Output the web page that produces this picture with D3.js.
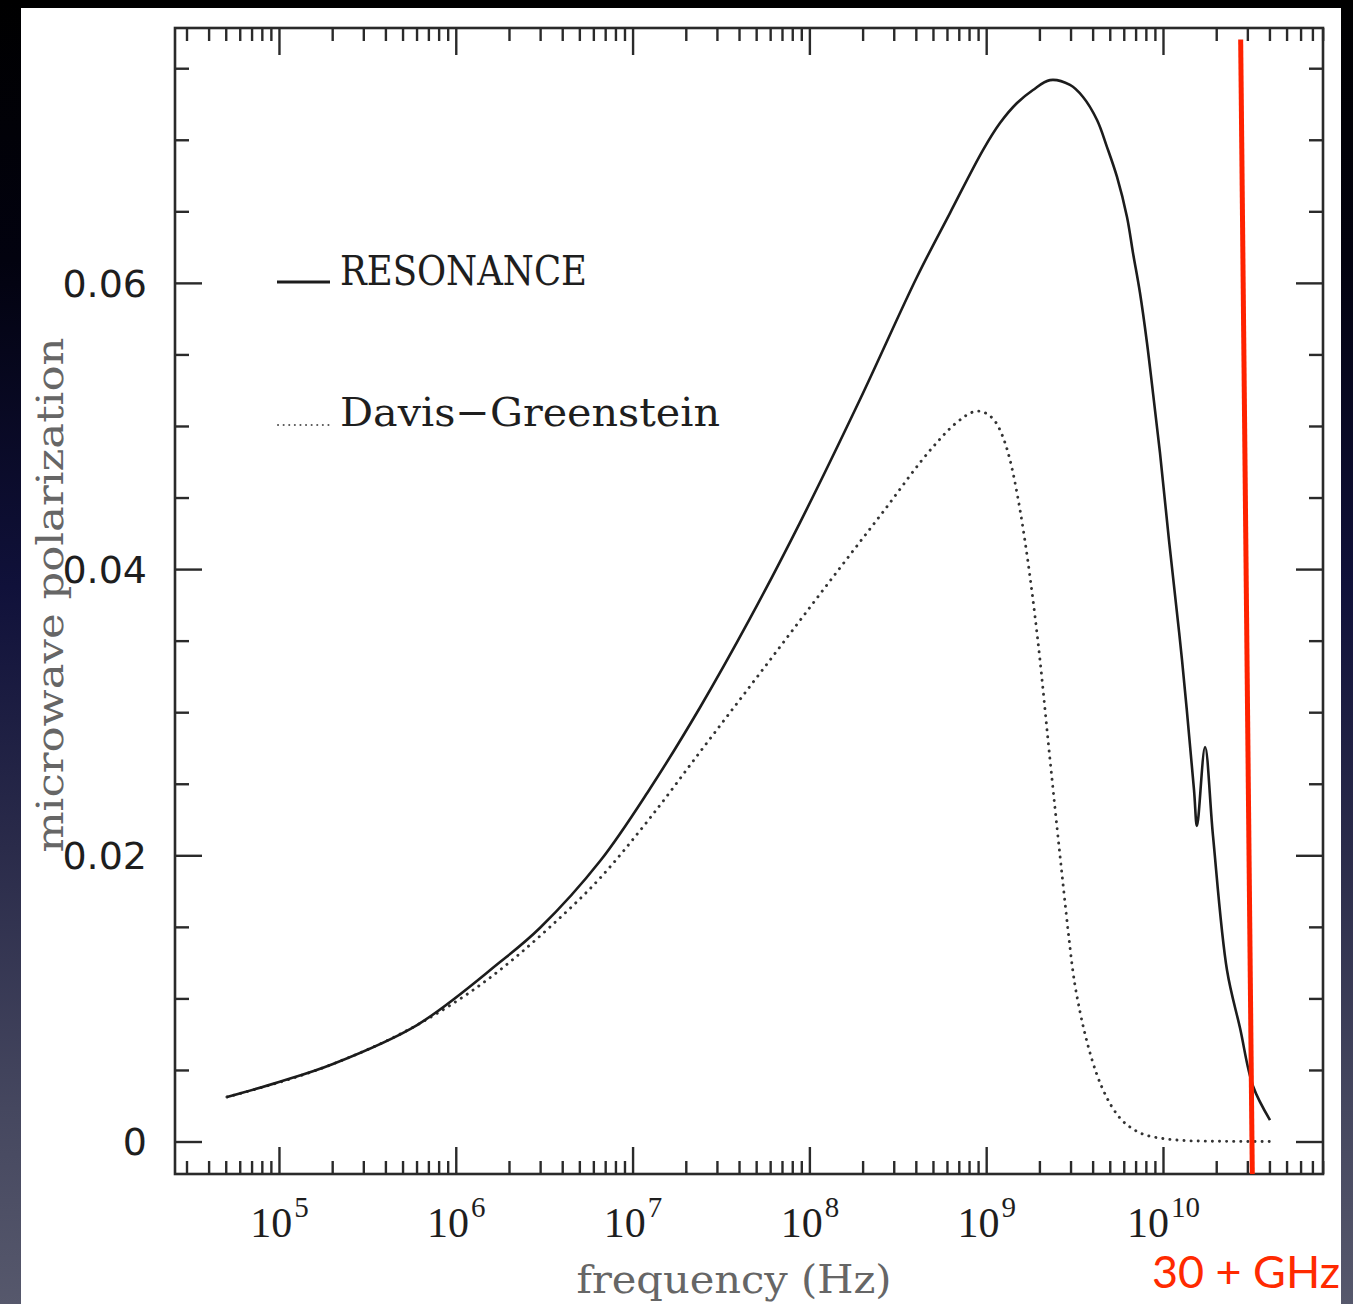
<!DOCTYPE html>
<html>
<head>
<meta charset="utf-8">
<script src="https://cdn.jsdelivr.net/npm/d3@7"></script>
<style>
  html, body { margin: 0; padding: 0; background: #000; }
  svg { display: block; }
</style>
</head>
<body>
<svg id="chart" width="1353" height="1304"></svg>
<script>
// ---------------- DATA ----------------
const freqResonance = [5.08e4, 1.0e5, 2.02e5, 6.04e5, 1.78e6, 2.99e6, 6.55e6, 1.256e7, 2.406e7, 4.615e7,
  8.85e7, 1.933e8, 4.06e8, 6.24e8, 9.59e8, 1.197e9, 1.494e9, 1.840e9, 2.296e9, 2.979e9, 3.530e9,
  4.236e9, 4.824e9, 5.495e9, 6.258e9, 6.767e9, 7.413e9, 8.12e9, 8.78e9, 9.62e9, 1.081e10, 1.281e10,
  1.498e10, 1.557e10, 1.729e10, 1.918e10, 2.301e10, 2.727e10, 3.228e10, 4.03e10];
const polResonance = [0.00311, 0.00416, 0.00542, 0.00814, 0.01254, 0.01492, 0.01960, 0.02467, 0.03033, 0.03655,
  0.04325, 0.05185, 0.06041, 0.06488, 0.06928, 0.07117, 0.07257, 0.07348, 0.07417, 0.07383, 0.07299,
  0.07138, 0.06949, 0.06740, 0.06460, 0.06209, 0.05929, 0.05580, 0.05230, 0.04811, 0.04203, 0.03365,
  0.02456, 0.02205, 0.02757, 0.02135, 0.01198, 0.00793, 0.00388, 0.00150];

const freqDG = [5.08e4, 2.02e5, 6.04e5, 1.426e6, 3.41e6, 6.55e6, 1.256e7, 2.406e7, 5.76e7, 1.361e8, 2.608e8,
  5.00e8, 6.66e8, 8.99e8, 1.051e9, 1.197e9, 1.364e9, 1.554e9, 1.770e9, 2.015e9, 2.237e9, 2.450e9,
  2.720e9, 2.903e9, 3.098e9, 3.396e9, 3.72e9, 4.236e9, 4.824e9, 5.71e9, 6.767e9, 9.62e9, 1.62e10, 4.03e10];
const polDG = [0.00311, 0.00542, 0.00814, 0.01108, 0.01499, 0.01841, 0.02261, 0.02722, 0.03337, 0.03945, 0.04399,
  0.04853, 0.05014, 0.05104, 0.05070, 0.04972, 0.04762, 0.04413, 0.03945, 0.03365, 0.02806, 0.02330,
  0.01799, 0.01478, 0.01184, 0.00905, 0.00695, 0.00465, 0.00304, 0.00164, 0.00087, 0.00024, 0.00003, 0.0];

const seriesNames = ["RESONANCE", "Davis\u2212Greenstein"];
const xMajorTicks = [1e5, 1e6, 1e7, 1e8, 1e9, 1e10];
const xTickExponents = ["5", "6", "7", "8", "9", "10"];
const yMajorTicks = [0, 0.02, 0.04, 0.06];
const yTickLabels = ["0", "0.02", "0.04", "0.06"];
const xTitle = "frequency (Hz)";
const yTitle = "microwave polarization";
const markerFreq = [2.75e10, 3.2e10];
const markerPol = [0.0770, -0.00227];
const markerLabel = "30 + GHz";

// ---------------- LAYOUT ----------------
const W = 1353, H = 1304;
const L = 175, R = 1323, T = 28, B = 1174;

const svg = d3.select("#chart");
const defs = svg.append("defs");
const grad = defs.append("linearGradient").attr("id", "bg").attr("x1", 0).attr("y1", 0).attr("x2", 0).attr("y2", 1);
[[0, "#000000"], [0.2, "#02020f"], [0.45, "#10113a"], [0.65, "#2a2b4a"], [0.85, "#45475f"], [1, "#56586c"]]
  .forEach(([o, c]) => grad.append("stop").attr("offset", o).attr("stop-color", c));

svg.append("rect").attr("width", W).attr("height", H).attr("fill", "url(#bg)");
svg.append("rect").attr("x", 21).attr("y", 8).attr("width", 1320).attr("height", H - 8).attr("fill", "#ffffff");

const x = d3.scaleLog().domain([Math.pow(10, 4.412), Math.pow(10, 10.905)]).range([L, R]);
const y = d3.scaleLinear().domain([-0.00227, 0.07781]).range([B, T]);

const xMinor = x.ticks().filter(t => !xMajorTicks.includes(t));
const yMinor = d3.range(0, 0.0776, 0.005).filter(v => !yMajorTicks.some(m => Math.abs(m - v) < 1e-9));

const tickColor = "#2a2a2a";
function styleAxis(g) {
  g.select(".domain").remove();
  g.selectAll(".tick line").attr("stroke", tickColor).attr("stroke-width", 2.4);
}

// bottom
svg.append("g").attr("transform", `translate(0,${B})`)
  .call(d3.axisBottom(x).tickValues(xMinor).tickSizeInner(-13).tickSizeOuter(0).tickFormat(""))
  .call(styleAxis);
const bottomMajor = svg.append("g").attr("transform", `translate(0,${B})`)
  .call(d3.axisBottom(x).tickValues(xMajorTicks).tickSizeInner(-27).tickSizeOuter(0).tickFormat(""))
  .call(styleAxis);
bottomMajor.selectAll(".tick text").each(function(d, i) {
  const t = d3.select(this);
  t.text(null).attr("y", 63).attr("dy", null)
    .attr("font-family", "'Liberation Serif', serif").attr("font-size", 42).attr("fill", "#1e1e1e")
    .attr("text-anchor", "middle");
  t.append("tspan").text("10");
  t.append("tspan").attr("font-size", 29).attr("dy", -20).attr("dx", 2).text(xTickExponents[i]);
});

// top
svg.append("g").attr("transform", `translate(0,${T})`)
  .call(d3.axisTop(x).tickValues(xMinor).tickSizeInner(-13).tickSizeOuter(0).tickFormat(""))
  .call(styleAxis);
svg.append("g").attr("transform", `translate(0,${T})`)
  .call(d3.axisTop(x).tickValues(xMajorTicks).tickSizeInner(-27).tickSizeOuter(0).tickFormat(""))
  .call(styleAxis);

// left
svg.append("g").attr("transform", `translate(${L},0)`)
  .call(d3.axisLeft(y).tickValues(yMinor).tickSizeInner(-14).tickSizeOuter(0).tickFormat(""))
  .call(styleAxis);
const leftMajor = svg.append("g").attr("transform", `translate(${L},0)`)
  .call(d3.axisLeft(y).tickValues(yMajorTicks).tickSizeInner(-27).tickSizeOuter(0).tickPadding(28)
    .tickFormat((d, i) => yTickLabels[i]))
  .call(styleAxis);
leftMajor.selectAll(".tick text")
  .attr("font-family", "'DejaVu Sans', sans-serif").attr("font-size", 38).attr("fill", "#1e1e1e").attr("dy", "0.35em");

// right
svg.append("g").attr("transform", `translate(${R},0)`)
  .call(d3.axisRight(y).tickValues(yMinor).tickSizeInner(-14).tickSizeOuter(0).tickFormat(""))
  .call(styleAxis);
svg.append("g").attr("transform", `translate(${R},0)`)
  .call(d3.axisRight(y).tickValues(yMajorTicks).tickSizeInner(-27).tickSizeOuter(0).tickFormat(""))
  .call(styleAxis);

// frame
svg.append("rect").attr("x", L).attr("y", T).attr("width", R - L).attr("height", B - T)
  .attr("fill", "none").attr("stroke", tickColor).attr("stroke-width", 2.6);

// curves
const lineSmooth = d3.line().x(d => x(d[0])).y(d => y(d[1])).curve(d3.curveCatmullRom.alpha(0.5));
const lineMono = d3.line().x(d => x(d[0])).y(d => y(d[1])).curve(d3.curveMonotoneX);
const resData = freqResonance.map((f, i) => [f, polResonance[i]]);
const dgData = freqDG.map((f, i) => [f, polDG[i]]);

svg.append("path").datum(dgData).attr("d", lineMono)
  .attr("fill", "none").attr("stroke", "#333").attr("stroke-width", 2.9)
  .attr("stroke-linecap", "round").attr("stroke-dasharray", "0.1 7");
svg.append("path").datum(resData).attr("d", lineSmooth)
  .attr("fill", "none").attr("stroke", "#1c1c1c").attr("stroke-width", 2.6);

// legend
svg.append("line").attr("x1", 277).attr("x2", 330).attr("y1", 282).attr("y2", 282)
  .attr("stroke", "#1c1c1c").attr("stroke-width", 3);
svg.append("line").attr("x1", 278).attr("x2", 330).attr("y1", 425).attr("y2", 425)
  .attr("stroke", "#555").attr("stroke-width", 2).attr("stroke-linecap", "round").attr("stroke-dasharray", "0.1 5.5");
svg.append("text").attr("x", 340).attr("y", 285).text(seriesNames[0])
  .attr("font-family", "'DejaVu Serif', serif").attr("font-size", 41).attr("fill", "#1e1e1e")
  .attr("textLength", 247).attr("lengthAdjust", "spacingAndGlyphs");
svg.append("text").attr("x", 340).attr("y", 426).text(seriesNames[1])
  .attr("font-family", "'DejaVu Serif', serif").attr("font-size", 40).attr("fill", "#1e1e1e")
  .attr("textLength", 380).attr("lengthAdjust", "spacingAndGlyphs");

// axis titles
svg.append("text").attr("x", 734).attr("y", 1293).attr("text-anchor", "middle").text(xTitle)
  .attr("font-family", "'DejaVu Serif', serif").attr("font-size", 40).attr("fill", "#666")
  .attr("textLength", 315).attr("lengthAdjust", "spacingAndGlyphs");
svg.append("text").attr("transform", "translate(63,595) rotate(-90)").attr("text-anchor", "middle").text(yTitle)
  .attr("font-family", "'DejaVu Serif', serif").attr("font-size", 38).attr("fill", "#666")
  .attr("textLength", 515).attr("lengthAdjust", "spacingAndGlyphs");

// red marker
svg.append("line")
  .attr("x1", x(markerFreq[0])).attr("y1", y(markerPol[0]))
  .attr("x2", x(markerFreq[1])).attr("y2", y(markerPol[1]))
  .attr("stroke", "#ff2200").attr("stroke-width", 5);
svg.append("text").attr("x", 1340).attr("y", 1288).attr("text-anchor", "end").text(markerLabel)
  .attr("font-family", "Lato, 'Noto Sans', sans-serif").attr("font-size", 44).attr("fill", "#ff2a00")
  .attr("textLength", 188).attr("lengthAdjust", "spacingAndGlyphs");
</script>
</body>
</html>
